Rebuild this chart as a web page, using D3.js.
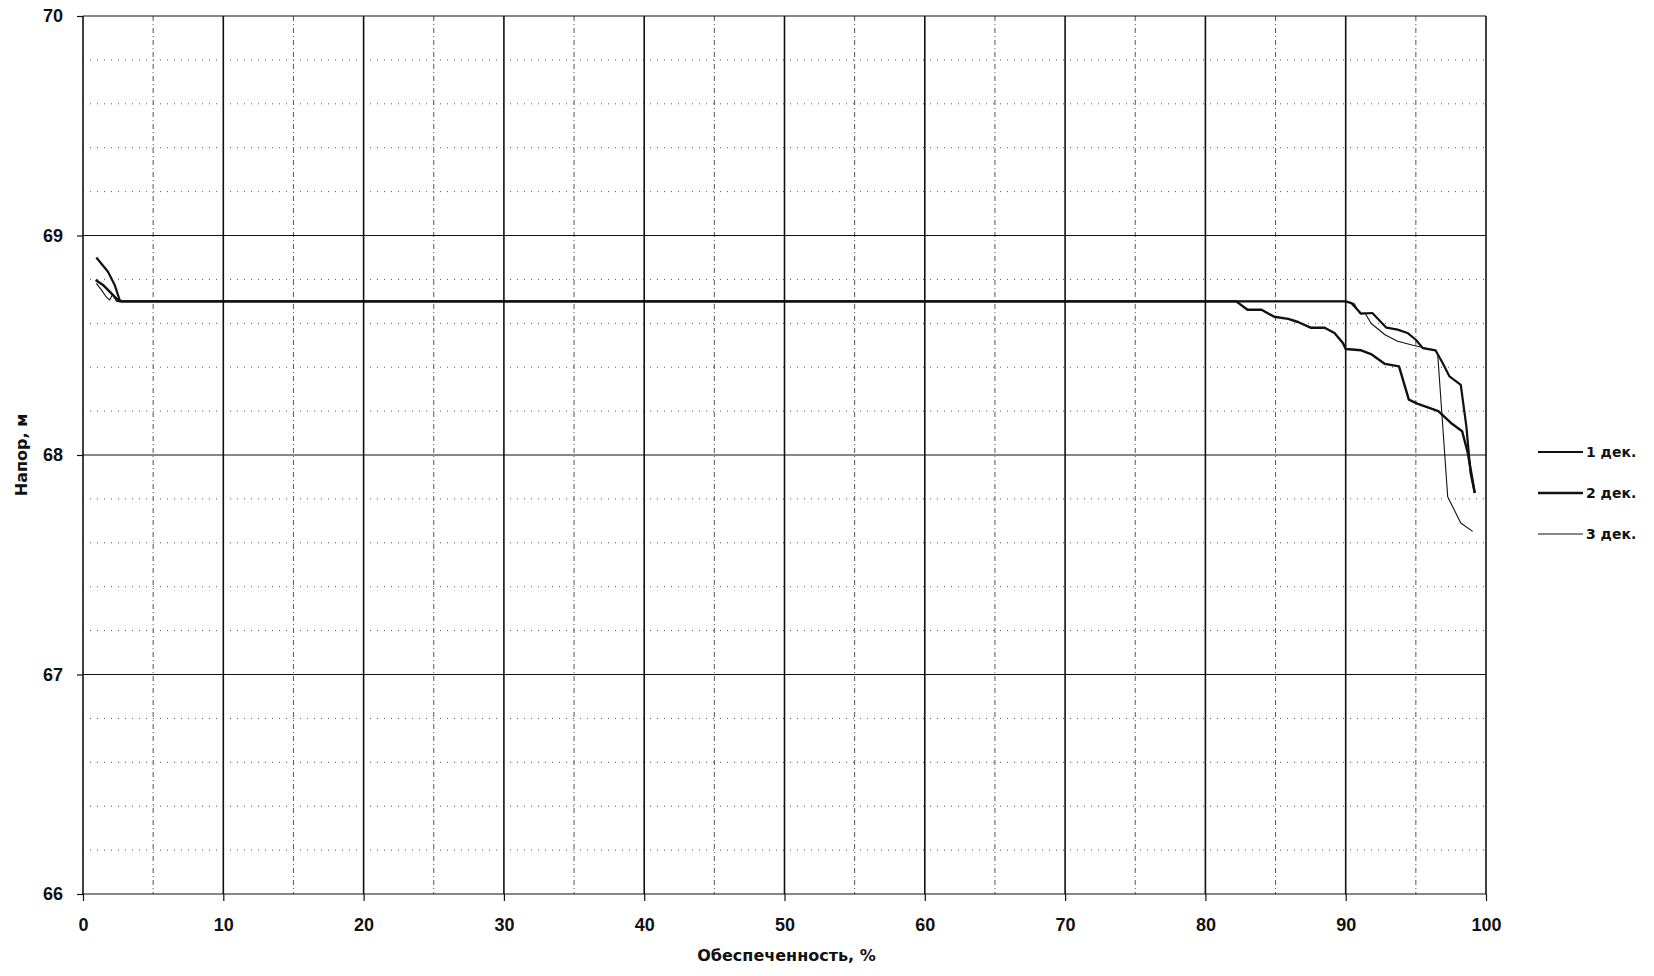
<!DOCTYPE html>
<html>
<head>
<meta charset="utf-8">
<script src="https://d3js.org/d3.v7.min.js"></script>
<style>
  body { margin: 0; background: #fff; }
  svg { display: block; font-family: "DejaVu Sans", Verdana, sans-serif; }
  .axis path { display: none; }
  .axis line { stroke: #111; stroke-width: 1.2; }
  .axis text { fill: #111; font-size: 18px; font-weight: bold; }
</style>
</head>
<body>
<div id="chart"></div>
<script>
// --- data ---
var seriesNames = ["1 дек.", "2 дек.", "3 дек."];

var dek1X = [0.95, 1.78, 2.26, 2.61, 2.75, 90.0, 90.4, 91.1, 91.9, 92.9, 93.7, 94.4, 95.0, 95.5, 96.4, 96.9, 97.4, 98.2, 98.6, 98.9, 99.2];
var dek1Y = [68.90, 68.835, 68.775, 68.706, 68.70, 68.70, 68.692, 68.644, 68.647, 68.58, 68.571, 68.556, 68.525, 68.487, 68.477, 68.42, 68.358, 68.32, 68.13, 67.918, 67.827];

var dek2X = [0.90, 1.42, 1.90, 2.37, 2.6, 82.2, 83.0, 84.0, 84.9, 85.9, 86.6, 87.5, 88.5, 89.2, 89.8, 90.0, 91.1, 91.8, 92.8, 93.8, 94.5, 95.1, 96.6, 97.5, 98.3, 98.7, 99.2];
var dek2Y = [68.797, 68.775, 68.744, 68.714, 68.70, 68.70, 68.662, 68.662, 68.63, 68.62, 68.606, 68.58, 68.58, 68.556, 68.51, 68.483, 68.477, 68.46, 68.415, 68.404, 68.252, 68.234, 68.20, 68.146, 68.108, 68.01, 67.827];

var dek3X = [0.95, 1.31, 1.66, 1.90, 2.1, 2.4, 90.0, 90.6, 91.0, 91.4, 91.8, 92.8, 93.7, 94.8, 95.5, 96.4, 96.56, 97.27, 98.2, 99.05];
var dek3Y = [68.782, 68.752, 68.72, 68.706, 68.73, 68.70, 68.70, 68.69, 68.645, 68.645, 68.60, 68.548, 68.518, 68.50, 68.49, 68.477, 68.457, 67.81, 67.69, 67.652];

var xTicks = [0, 10, 20, 30, 40, 50, 60, 70, 80, 90, 100];
var yTicks = [66, 67, 68, 69, 70];
var xMinor = [5, 15, 25, 35, 45, 55, 65, 75, 85, 95];
var yMinor = [66.2, 66.4, 66.6, 66.8, 67.2, 67.4, 67.6, 67.8, 68.2, 68.4, 68.6, 68.8, 69.2, 69.4, 69.6, 69.8];

var width = 1654,
    height = 976;
var margin = {top: 16, right: 168, bottom: 82, left: 83};
var w = width - margin.left - margin.right,
    h = height - margin.top - margin.bottom;

var svg = d3.select("#chart").append("svg")
    .attr("width", width)
    .attr("height", height);

var g = svg.append("g")
    .attr("transform", "translate(" + margin.left + "," + margin.top + ")");

var x = d3.scaleLinear().domain([0, 100]).range([0, w]);
var y = d3.scaleLinear().domain([66, 70]).range([h, 0]);

// minor grid
g.selectAll(".vminor").data(xMinor).enter().append("line")
    .attr("class", "vminor")
    .attr("x1", function(d) { return x(d); }).attr("x2", function(d) { return x(d); })
    .attr("y1", 0).attr("y2", h)
    .attr("stroke", "#555").attr("stroke-width", 1)
    .attr("stroke-dasharray", "5,3,1,3");

g.selectAll(".hminor").data(yMinor).enter().append("line")
    .attr("class", "hminor")
    .attr("x1", 0).attr("x2", w)
    .attr("y1", function(d) { return y(d); }).attr("y2", function(d) { return y(d); })
    .attr("stroke", "#555").attr("stroke-width", 1)
    .attr("stroke-dasharray", "1,6");

// major grid
g.selectAll(".vmajor").data(xTicks).enter().append("line")
    .attr("class", "vmajor")
    .attr("x1", function(d) { return x(d); }).attr("x2", function(d) { return x(d); })
    .attr("y1", 0).attr("y2", h)
    .attr("stroke", "#111").attr("stroke-width", 1.6);

g.selectAll(".hmajor").data(yTicks).enter().append("line")
    .attr("class", "hmajor")
    .attr("x1", 0).attr("x2", w)
    .attr("y1", function(d) { return y(d); }).attr("y2", function(d) { return y(d); })
    .attr("stroke", "#111").attr("stroke-width", 1.2);

// axes
g.append("g")
    .attr("class", "axis")
    .attr("transform", "translate(0," + h + ")")
    .call(d3.axisBottom(x).tickValues(xTicks).tickFormat(d3.format("d")).tickSize(7).tickPadding(17));

g.append("g")
    .attr("class", "axis")
    .call(d3.axisLeft(y).tickValues(yTicks).tickFormat(d3.format("d")).tickSize(6).tickPadding(14));

// axis titles
g.append("text")
    .attr("x", w / 2 + 2)
    .attr("y", h + 67)
    .attr("text-anchor", "middle")
    .attr("font-size", 16)
    .attr("font-weight", "bold")
    .attr("fill", "#111")
    .text("Обеспеченность, %");

g.append("text")
    .attr("transform", "translate(" + (-56) + "," + (h / 2) + ") rotate(-90)")
    .attr("text-anchor", "middle")
    .attr("font-size", 16)
    .attr("font-weight", "bold")
    .attr("fill", "#111")
    .text("Напор, м");

// series
var series = [
    {name: seriesNames[0], xs: dek1X, ys: dek1Y, sw: 2.2},
    {name: seriesNames[1], xs: dek2X, ys: dek2Y, sw: 2.4},
    {name: seriesNames[2], xs: dek3X, ys: dek3Y, sw: 1.1}
];

var line = d3.line()
    .x(function(d) { return x(d[0]); })
    .y(function(d) { return y(d[1]); });

series.forEach(function(s) {
    var pts = s.xs.map(function(v, i) { return [v, s.ys[i]]; });
    g.append("path")
        .datum(pts)
        .attr("fill", "none")
        .attr("stroke", "#111")
        .attr("stroke-width", s.sw)
        .attr("stroke-linejoin", "round")
        .attr("d", line);
});

// legend
var legend = svg.append("g")
    .attr("transform", "translate(1538,452)");

var item = legend.selectAll(".item").data(series).enter().append("g")
    .attr("class", "item")
    .attr("transform", function(d, i) { return "translate(0," + (i * 41) + ")"; });

item.append("line")
    .attr("x1", 0).attr("x2", 45)
    .attr("y1", 0).attr("y2", 0)
    .attr("stroke", "#111")
    .attr("stroke-width", function(d) { return d.sw; });

item.append("text")
    .attr("x", 48)
    .attr("y", 5)
    .attr("font-size", 14)
    .attr("font-weight", "bold")
    .attr("fill", "#111")
    .text(function(d) { return d.name; });
</script>
</body>
</html>
